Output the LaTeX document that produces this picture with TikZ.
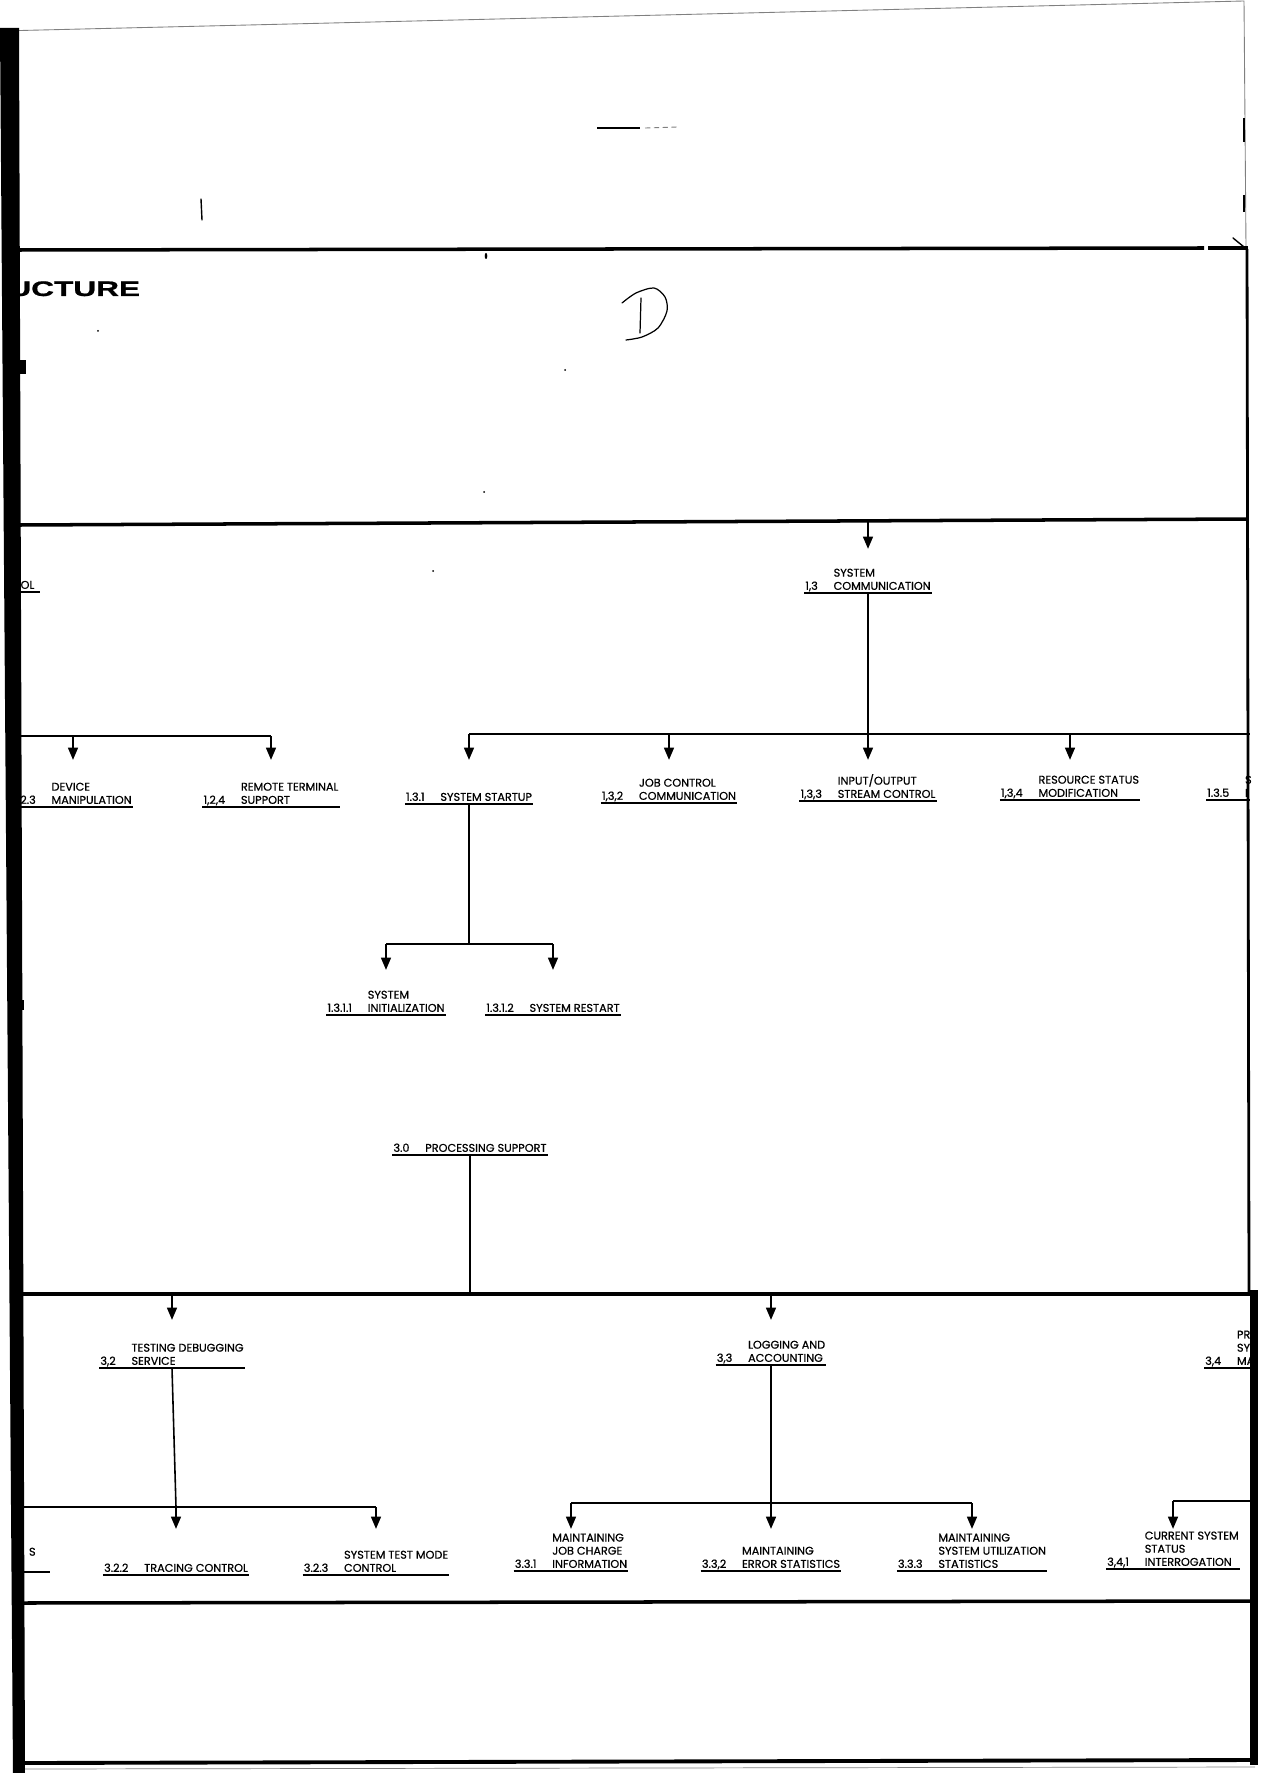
\documentclass[tikz,border=0pt]{standalone}
\usepackage{fontspec}
\setmainfont{Liberation Sans}
\newfontfamily\wbsfont[FakeBold=0.6]{Poppins}
\newfontfamily\titlefont[FakeStretch=1.5,FakeBold=1]{Liberation Sans}
\usetikzlibrary{arrows.meta}

% number on the last line, text lines stacked beside it
\newcommand{\wbs}[2]{\begin{tabular}[b]{@{}l@{\hskip9pt}l@{}}#1&\begin{tabular}[b]{@{}l@{}}#2\end{tabular}\end{tabular}}

\begin{document}
\begin{tikzpicture}[x=0.02cm,y=-0.02cm,
  box/.style={font=\wbsfont\fontsize{6.4}{7.5}\selectfont,anchor=south,inner xsep=0.5pt,inner ysep=1.6pt,text depth=0pt},
  uline/.style={line width=1.3pt},
  tree/.style={line width=0.9pt},
  bus/.style={line width=1.4pt},
  arr/.style={line width=1.3pt,-{Triangle[length=7pt,width=5.5pt]}},
  border/.style={line width=2pt},
  penmark/.style={line width=0.8pt,line cap=round}]
  \useasboundingbox (0,0) rectangle (1275,1773);

  % levels of the buses and arrow tips
  \coordinate (lb) at (20,0);
  \coordinate (rb) at (1250,0);
  \coordinate (top2) at (0,522);
  \coordinate (tip2) at (0,549);
  \coordinate (bus3l) at (0,736);
  \coordinate (bus3r) at (0,734);
  \coordinate (tip3) at (0,760);
  \coordinate (bus4) at (0,944);
  \coordinate (tip4) at (0,970);
  \coordinate (bus5) at (0,1294);
  \coordinate (tip5) at (0,1320);
  \coordinate (bus6l) at (0,1507);
  \coordinate (bus6m) at (0,1503);
  \coordinate (bus6r) at (0,1501);
  \coordinate (tip6) at (0,1529);

  \node[font=\titlefont\bfseries\fontsize{12}{14}\selectfont,anchor=base west,inner sep=0pt] (title) at (8,296) {UCTURE};

  % labels
  \node[box,anchor=south west,inner xsep=3pt] (n12) at (15,592) {OL};
  \node[box] (n13)   at (868,593)  {\wbs{1,3}{SYSTEM\\COMMUNICATION}};
  \node[box] (n123)  at (73,807)   {\wbs{1.2.3}{DEVICE\\MANIPULATION}};
  \node[box] (n124)  at (271,807)  {\wbs{1,2,4}{REMOTE TERMINAL\\SUPPORT}};
  \node[box] (n131)  at (469,804)  {\wbs{1.3.1}{SYSTEM STARTUP}};
  \node[box] (n132)  at (669,803)  {\wbs{1,3,2}{JOB CONTROL\\COMMUNICATION}};
  \node[box] (n133)  at (868,801)  {\wbs{1,3,3}{INPUT/OUTPUT\\STREAM CONTROL}};
  \node[box] (n134)  at (1070,800) {\wbs{1,3,4}{RESOURCE STATUS\\MODIFICATION}};
  \node[box,anchor=south west] (n135) at (1206,800) {\wbs{1.3.5}{S\\I}};
  \node[box] (n1311) at (386,1015) {\wbs{1.3.1.1}{SYSTEM\\INITIALIZATION}};
  \node[box] (n1312) at (553,1015) {\wbs{1.3.1.2}{SYSTEM RESTART}};
  \node[box] (n30)   at (470,1155) {\wbs{3.0}{PROCESSING SUPPORT}};
  \node[box] (n32)   at (172,1368) {\wbs{3,2}{TESTING DEBUGGING\\SERVICE}};
  \node[box] (n33)   at (771,1365) {\wbs{3,3}{LOGGING AND\\ACCOUNTING}};
  \node[box,anchor=south west] (n34) at (1204,1368) {\wbs{3,4}{PR\\SY\\MA}};
  \node[box,anchor=south west] (n321) at (12,1572) {\wbs{}{S\\\hphantom{SSS}}};
  \node[box] (n322)  at (176,1575) {\wbs{3.2.2}{TRACING CONTROL}};
  \node[box] (n323)  at (376,1575) {\wbs{3.2.3}{SYSTEM TEST MODE\\CONTROL}};
  \node[box] (n331)  at (571,1571) {\wbs{3.3.1}{MAINTAINING\\JOB CHARGE\\INFORMATION}};
  \node[box] (n332)  at (771,1571) {\wbs{3.3,2}{MAINTAINING\\ERROR STATISTICS}};
  \node[box] (n333)  at (972,1571) {\wbs{3.3.3}{MAINTAINING\\SYSTEM UTILIZATION\\STATISTICS}};
  \node[box] (n341)  at (1173,1569) {\wbs{3,4,1}{CURRENT SYSTEM\\STATUS\\INTERROGATION}};

  \foreach \n in {n12,n13,n123,n124,n131,n132,n133,n134,n1311,n1312,n30,n32,n33,n321,n322,n323,n331,n332,n333,n341}
    \draw[uline] (\n.south west) -- (\n.south east);
  \draw[uline] (n135.south west) -- (n135.south west -| rb);
  \draw[uline] (n34.south west) -- (n34.south west -| rb);

  % frame
  \draw[gray,line width=0.5pt] (0,31) -- (1244,1) -- (1246,249);
  \draw[border] (20,250) -- (1204,248);
  \draw[border] (1208,248) -- (1248,248);
  \draw[penmark] (1233,238) -- (1244,247);
  \draw[border] (20,525) -- (1248,519);
  \draw[border] (20,1603) -- (1252,1601);
  \draw[line width=2.2pt] (20,1763) -- (1255,1760);
  \draw[gray,line width=0.4pt] (20,1769) -- (1255,1767);
  \draw[line width=1.6pt] (1247,249) -- (1249,1294);
  \fill (1250,1290) -- (1258,1290) -- (1258,1765) -- (1250,1765) -- cycle;

  % 1.3 branch
  \draw[arr] (n13.north |- top2) -- (n13.north |- tip2);
  \draw[tree] (n13.south) -- (n133.north |- bus3r);
  \draw[bus] (lb |- bus3l) -- (n124.north |- bus3l);
  \draw[bus] (n131.north |- bus3r) -- (rb |- bus3r);
  \foreach \n in {n123,n124}
    \draw[arr] (\n.north |- bus3l) -- (\n.north |- tip3);
  \foreach \n in {n131,n132,n133,n134}
    \draw[arr] (\n.north |- bus3r) -- (\n.north |- tip3);
  \draw[tree] (n131.south) -- (n131.south |- bus4);
  \draw[bus] (n1311.north |- bus4) -- (n1312.north |- bus4);
  \foreach \n in {n1311,n1312}
    \draw[arr] (\n.north |- bus4) -- (\n.north |- tip4);

  % 3.0 branch
  \draw[tree] (n30.south) -- (n30.south |- bus5);
  \draw[border] (lb |- bus5) -- (rb |- bus5);
  \foreach \n in {n32,n33}
    \draw[arr] (\n.north |- bus5) -- (\n.north |- tip5);
  \draw[tree] (n32.south) -- (n322.north |- bus6l);
  \draw[bus] (lb |- bus6l) -- (n323.north |- bus6l);
  \foreach \n in {n322,n323}
    \draw[arr] (\n.north |- bus6l) -- (\n.north |- tip6);
  \draw[tree] (n33.south) -- (n332.north |- bus6m);
  \draw[bus] (n331.north |- bus6m) -- (n333.north |- bus6m);
  \foreach \n in {n331,n332,n333}
    \draw[arr] (\n.north |- bus6m) -- (\n.north |- tip6);
  \draw[bus] (n341.north |- bus6r) -- (rb |- bus6r);
  \draw[arr] (n341.north |- bus6r) -- (n341.north |- tip6);

  % pen marks on the sheet
  \draw[line width=1pt] (597,128) -- (640,128);
  \draw[gray,line width=0.5pt,dash pattern=on 3pt off 2pt] (645,128) -- (678,127);
  \draw[penmark] (201,199) -- (202,220);
  \draw[line width=1.6pt] (1244,118) -- (1244,142);
  \draw[line width=1.6pt] (1244,195) -- (1244,212);
  \fill (486,256) ellipse (1.3 and 3);
  \foreach \p in {(98,331),(565,370),(484,492),(433,571)}
    \fill \p circle (1);
  \draw[line width=0.7pt,line cap=round] (641,298) -- (640,333);
  \draw[line width=0.7pt,line cap=round] plot[smooth] coordinates {(622,303) (636,293) (654,288) (665,297) (667,311) (658,328) (642,337) (626,340)};

  % left bar
  \fill (0,28) -- (19,28) -- (25,1773) -- (13,1773) -- cycle;
  \fill (19,360) rectangle (26,374);
  \fill (19,1000) rectangle (24,1010);
\end{tikzpicture}
\end{document}
